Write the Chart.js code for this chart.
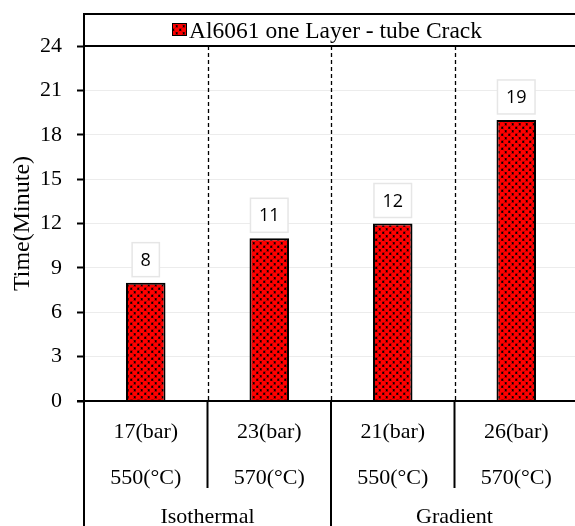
<!DOCTYPE html>
<html>
<head>
<meta charset="utf-8">
<script src="https://cdn.jsdelivr.net/npm/chart.js@4"></script>
<style>
  html, body { margin: 0; padding: 0; background: #fff; overflow: hidden; }
  #wrap { width: 580px; height: 526px; }
</style>
</head>
<body>
<div id="wrap"><canvas id="crackChart" width="580" height="526"></canvas></div>
<script>
// values
const pressures = ['17(bar)', '23(bar)', '21(bar)', '26(bar)'];
const temperatures = ['550(°C)', '570(°C)', '550(°C)', '570(°C)'];
const groups = ['Isothermal', 'Gradient'];
const groupSizes = [2, 2];
const crackTime = [8, 11, 12, 19];
const seriesName = 'Al6061 one Layer - tube Crack';
const yMin = 0, yMax = 24, yStep = 3;

const serif = '"Liberation Serif", "Times New Roman", serif';

// red dots on black, like the excel pattern fill
function makePattern() {
    const c = document.createElement('canvas');
    c.width = 7; c.height = 7;
    const p = c.getContext('2d');
    p.fillStyle = '#000';
    p.fillRect(0, 0, 7, 7);
    p.fillStyle = '#ff0000';
    const r = 2.6;
    [[1.75, 1.75], [5.25, 5.25], [8.75, 1.75], [1.75, 8.75], [-1.75, 5.25], [5.25, -1.75],
     [8.75, 8.75], [-1.75, -1.75]].forEach(([x, y]) => {
        p.beginPath(); p.arc(x, y, r, 0, Math.PI * 2); p.fill();
    });
    return p.createPattern(c, 'repeat');
}
const ctx = document.getElementById('crackChart').getContext('2d');
const dots = makePattern();

// draws legend box, separators, category rows, value boxes and axis title
const decorations = {
    id: 'decorations',
    beforeDatasetsDraw(chart) {
        const { ctx, chartArea: a, scales: { x } } = chart;
        ctx.save();
        ctx.strokeStyle = '#000';
        ctx.lineWidth = 1.3;
        ctx.setLineDash([4, 3]);
        for (let i = 0; i < pressures.length - 1; i++) {
            const px = Math.round((x.getPixelForValue(i) + x.getPixelForValue(i + 1)) / 2) + 0.5;
            ctx.beginPath(); ctx.moveTo(px, a.top); ctx.lineTo(px, a.bottom); ctx.stroke();
        }
        ctx.restore();
    },
    afterDraw(chart) {
        const { ctx, chartArea: a, scales: { x, y } } = chart;
        ctx.save();
        ctx.strokeStyle = '#000';
        ctx.fillStyle = '#000';

        // legend box on top of the plot
        ctx.lineWidth = 2;
        ctx.strokeRect(a.left, 14, a.right - a.left, a.top - 14);
        ctx.fillStyle = dots;
        ctx.fillRect(172, 23, 15, 13);
        ctx.lineWidth = 1;
        ctx.strokeRect(172.5, 23.5, 14, 12);
        ctx.fillStyle = '#000';
        ctx.font = '23.5px ' + serif;
        ctx.textAlign = 'left';
        ctx.textBaseline = 'alphabetic';
        ctx.fillText(seriesName, 189, 38);

        // bottom axis line
        ctx.lineWidth = 2;
        ctx.beginPath(); ctx.moveTo(a.left - 7, a.bottom); ctx.lineTo(a.right, a.bottom); ctx.stroke();

        // category rows under the axis
        ctx.font = '22px ' + serif;
        const half = (x.getPixelForValue(1) - x.getPixelForValue(0)) / 2;
        ctx.textAlign = 'center';
        pressures.forEach((lab, i) => {
            const cx = x.getPixelForValue(i);
            ctx.fillText(lab, cx, 438);
            ctx.fillText(temperatures[i], cx, 484);
        });
        // vertical dividers: long at group edges, short inside groups
        let start = 0;
        const edges = [0];
        groupSizes.forEach(n => { start += n; edges.push(start); });
        ctx.lineWidth = 2;
        for (let i = 0; i <= pressures.length; i++) {
            const px = x.getPixelForValue(0) - half + i * half * 2;
            const long = edges.includes(i);
            ctx.beginPath(); ctx.moveTo(px, a.bottom); ctx.lineTo(px, long ? 526 : 488); ctx.stroke();
        }
        // group names
        start = 0;
        groups.forEach((g, gi) => {
            const first = x.getPixelForValue(start);
            const last = x.getPixelForValue(start + groupSizes[gi] - 1);
            ctx.fillText(g, (first + last) / 2, 523);
            start += groupSizes[gi];
        });

        // value boxes above bars
        ctx.font = '18px "Open Sans", sans-serif';
        ctx.textBaseline = 'middle';
        crackTime.forEach((v, i) => {
            const cx = x.getPixelForValue(i);
            const top = y.getPixelForValue(v);
            const txt = String(v);
            const w = ctx.measureText(txt).width + 17;
            const h = 34;
            const bx = cx - w / 2, by = top - 6 - h;
            ctx.fillStyle = '#fff';
            ctx.fillRect(bx, by, w, h);
            ctx.strokeStyle = '#e6e6e6';
            ctx.lineWidth = 1.5;
            ctx.strokeRect(bx, by, w, h);
            ctx.fillStyle = '#000';
            ctx.fillText(txt, cx, by + h / 2 + 1);
        });

        // y axis title
        ctx.translate(23, (a.top + a.bottom) / 2);
        ctx.rotate(-Math.PI / 2);
        ctx.font = '24px ' + serif;
        ctx.textBaseline = 'middle';
        ctx.fillText('Time(Minute)', 0, 0);
        ctx.restore();
    }
};

const crackChart = new Chart(ctx, {
    type: 'bar',
    data: {
        labels: pressures,
        datasets: [{
            label: seriesName,
            data: crackTime,
            backgroundColor: dots,
            borderColor: '#000',
            borderWidth: 2,
            barPercentage: 0.32,
            categoryPercentage: 1
        }]
    },
    options: {
        responsive: false,
        animation: false,
        layout: { padding: { top: 46, bottom: 125, right: 2, left: 0 } },
        plugins: { legend: { display: false }, tooltip: { enabled: false } },
        scales: {
            x: { display: false },
            y: {
                min: yMin, max: yMax,
                ticks: { stepSize: yStep, color: '#000', padding: 15, font: { family: serif, size: 22 } },
                grid: { color: '#ececec', tickColor: '#000', tickLength: 7, lineWidth: 1, tickWidth: 2 },
                border: { color: '#000', width: 2 },
                afterFit(scale) { scale.width = 84; }
            }
        }
    },
    plugins: [decorations]
});
</script>
</body>
</html>
